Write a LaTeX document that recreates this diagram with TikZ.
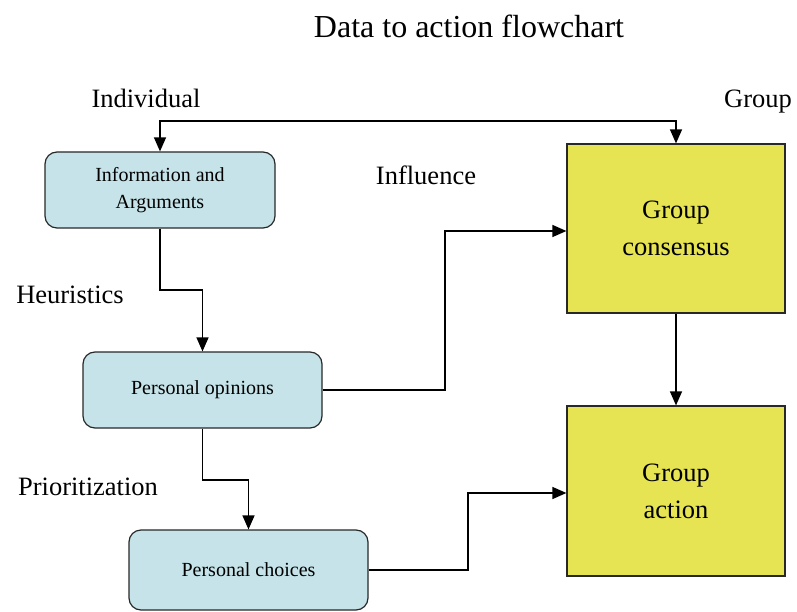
\documentclass[tikz,border=0pt]{standalone}
\usepackage{fontspec}
\setmainfont{Liberation Serif}
\usetikzlibrary{arrows.meta}
\definecolor{boxblue}{RGB}{197,227,232}
\definecolor{boxyellow}{RGB}{230,228,82}
\definecolor{edge}{RGB}{40,40,40}
\begin{document}
\begin{tikzpicture}[x=1pt,y=-1pt,
  smallbox/.style={draw=edge,line width=1.2pt,fill=boxblue,rounded corners=12pt,
    minimum width=230pt,minimum height=76pt,inner sep=0pt,align=center,
    font=\fontsize{20}{27}\selectfont},
  bigbox/.style={draw=edge,line width=1.2pt,fill=boxyellow,
    minimum width=218pt,minimum height=169pt,inner sep=0pt,align=center,
    font=\fontsize{26.5}{37}\selectfont},
  lbl/.style={inner sep=0pt,anchor=base,font=\fontsize{26.5}{30}\selectfont},
  conn/.style={line width=1.3pt,draw=black},
  tip/.style={-{Triangle[length=14pt,width=12pt]}}]
\useasboundingbox (0,0) rectangle (797,612);
\node[lbl,font=\fontsize{32}{38}\selectfont] (title) at (469,38) {Data to action flowchart};
\node[lbl] (lind) at (146,108) {Individual};
\node[lbl] (lgrp) at (758,108) {Group};
\node[lbl] (linf) at (426,185) {Influence};
\node[lbl] (lheu) at (70,303) {Heuristics};
\node[lbl] (lpri) at (88,495) {Prioritization};

\node[smallbox] (info) at (160,190) {Information and\\Arguments};
\node[smallbox,minimum width=239pt] (op) at (202.5,390) {Personal opinions};
\node[smallbox,minimum width=239pt,minimum height=80pt] (ch) at (248.5,570) {Personal choices};
\node[bigbox] (cons) at (676,228.5) {Group\\consensus};
\node[bigbox,minimum height=170pt] (act) at (676,491) {Group\\action};

\coordinate (topL) at (160,121);
\coordinate (topR) at (676,121);
\draw[conn,{Triangle[length=14pt,width=12pt]}-{Triangle[length=14pt,width=12pt]}] (info.north) -- (topL) -- (topR) -- (cons.north);

\coordinate (k1) at (160,290);
\coordinate (k1b) at (202.5,290);
\draw[conn,tip] (info.south) -- (k1) -- (k1b) -- (op.north);

\coordinate (k2) at (445,390);
\coordinate (k2b) at (445,231);
\draw[conn,tip] (op.east) -- (k2) -- (k2b) -- (k2b -| cons.west);

\coordinate (k3) at (202.5,480);
\coordinate (k3b) at (248.5,480);
\draw[conn,tip] (op.south) -- (k3) -- (k3b) -- (ch.north);

\coordinate (k4) at (468,570);
\coordinate (k4b) at (468,493);
\draw[conn,tip] (ch.east) -- (k4) -- (k4b) -- (k4b -| act.west);

\draw[conn,tip] (cons.south) -- (act.north);
\end{tikzpicture}
\end{document}
